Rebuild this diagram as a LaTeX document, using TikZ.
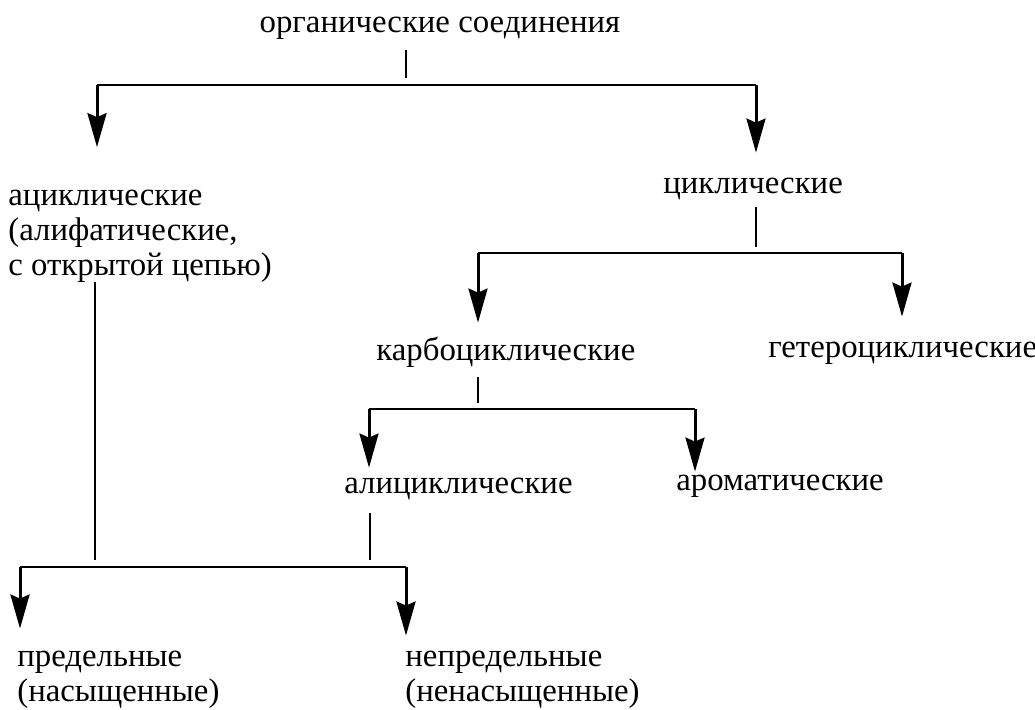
\documentclass[tikz,border=0pt]{standalone}
\usepackage{fontspec}
\setmainfont{Liberation Serif}
\usetikzlibrary{arrows.meta}
\usetikzlibrary{positioning}

\begin{document}
\begin{tikzpicture}[x=0.5pt,y=-0.5pt,
    >={Stealth[length=17pt,width=9.5pt,inset=2pt]},
    lbl/.style={inner sep=0pt,anchor=base west,
      font=\fontsize{16.4pt}{17.5pt}\selectfont},
    one/.style={lbl,text height=11pt,text depth=4pt},
    many/.style={lbl,align=left},
    bus/.style={line width=1pt},
    stub/.style={line width=0.7pt},
    arr/.style={->,line width=1.5pt}]
  \useasboundingbox (0,0) rectangle (1035,709);

  \node[one,anchor=base] (org) at (440,32) {органические соединения};
  \node[many] (acyc) at (8,275) {ациклические\\(алифатические,\\с открытой цепью)};
  \node[one] (cyc) at (663,193) {циклические};
  \node[one] (carb) at (376,360) {карбоциклические};
  \node[one] (het) at (768,357) {гетероциклические};
  \node[one] (alic) at (344,493) {алициклические};
  \node[one] (arom) at (676,490) {ароматические};
  \node[many] (pred) at (17,701) {предельные\\(насыщенные)};
  \node[many] (nepred) at (405,701) {непредельные\\(ненасыщенные)};

  % buses
  \coordinate (b1w) at (97,85);  \coordinate (b1e) at (756,85);  \coordinate (s1) at (406,85);
  \coordinate (b2w) at (478,253); \coordinate (b2e) at (902,253); \coordinate (s2) at (756,253);
  \coordinate (b3w) at (369,409); \coordinate (b3e) at (695,409); \coordinate (s3) at (478,409);
  \coordinate (b4w) at (20,567);  \coordinate (b4e) at (406,567); \coordinate (s4) at (95,567);
  \coordinate (s5) at (370,567);

  \draw[stub,shorten <=5pt,shorten >=3.5pt] (s1 |- org.south) -- (s1);
  \draw[stub,shorten <=3pt,shorten >=3pt] (s2 |- cyc.south) -- (s2);
  \draw[stub,shorten <=4.5pt,shorten >=3pt] (s3 |- carb.south) -- (s3);
  \draw[stub,shorten >=3.5pt] (s4 |- acyc.south) -- (s4);
  \draw[stub,shorten <=6pt,shorten >=3.5pt] (s5 |- alic.south) -- (s5);

  \draw[bus] (b1w) -- (b1e);
  \draw[bus] (b2w) -- (b2e);
  \draw[bus] (b3w) -- (b3e);
  \draw[bus] (b4w) -- (b4e);

  \draw[arr,shorten >=21pt] (b1w) -- (b1w |- acyc.north);
  \draw[arr,shorten >=9pt] (b1e) -- (b1e |- cyc.north);
  \draw[arr,shorten >=7.5pt] (b2w) -- (b2w |- carb.north);
  \draw[arr,shorten >=9pt] (b2e) -- (b2e |- het.north);
  \draw[arr,shorten >=1.5pt] (b3w) -- (b3w |- alic.north);
  \draw[arr,shorten >=-2pt] (b3e) -- (b3e |- arom.north);
  \draw[arr,shorten >=10.8pt] (b4w) -- (b4w |- pred.north);
  \draw[arr,shorten >=7.3pt] (b4e) -- (b4e |- nepred.north);
\end{tikzpicture}
\end{document}
